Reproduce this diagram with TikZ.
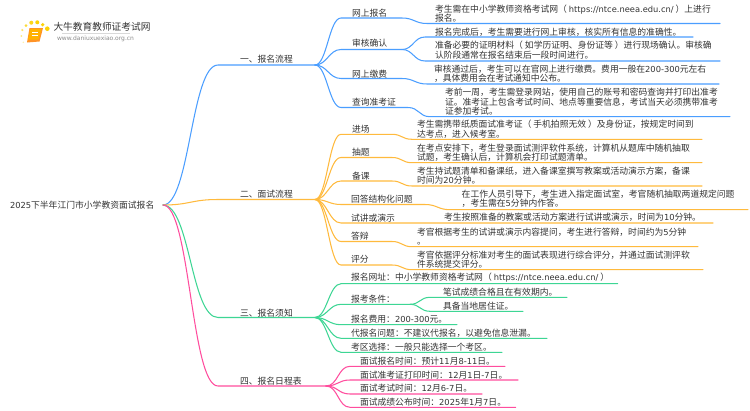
\documentclass[tikz,border=0pt]{standalone}
\usepackage{fontspec}
\setmainfont{Noto Sans CJK SC}
\newfontfamily\latinface{DejaVu Sans}
\newcommand{\E}[1]{{\latinface\fontsize{8.3}{9.4}\selectfont #1}}
\definecolor{txt}{HTML}{333333}
\definecolor{bl}{HTML}{4A9EFF}
\definecolor{og}{HTML}{FFBA3D}
\definecolor{gn}{HTML}{3DD694}
\definecolor{pk}{HTML}{FF4D9E}
\tikzset{
  tx/.style={anchor=west,inner sep=0pt,outer sep=0pt,align=left,text=txt,font=\fontsize{8.8}{9.4}\selectfont},
  ln/.style={line width=1.05pt,line cap=round,line join=round}
}
\newcommand{\sq}[3]{(#1) .. controls +(#3,0) and +(-#3,0) .. (#2)}
\begin{document}
\begin{tikzpicture}[x=1pt,y=-1pt]
\useasboundingbox (0,0) rectangle (750,410);
\fill[white] (0,0) rectangle (750,410);
% logo
\foreach \px/\py/\pr/\po in {47.3/28.7/2.3/1,42.7/24.7/1.8/1,37.3/22.3/2/1,31.3/22.7/2/.9,26/25.7/1.5/.8,22.3/30/1.2/.6,21.3/36/1/.5,23.3/42.3/.8/.35}
  \fill[yellow!70!orange,opacity=\po] (\px,\py) circle (\pr);
\fill[orange!85!white] (29.5,28) -- (43,28) -- (39.5,41.5) -- (27,42.5) -- cycle;
\fill[orange!60!yellow] (30.5,29) -- (41.5,29) -- (38.5,39.5) -- (28,39.5) -- cycle;
\draw[white,line width=.5pt] (32,32) -- (38,32) (31.5,35) -- (37.5,35);
\draw[black!15,line width=.6pt] (62,33) -- (130,33);
\node[tx,font=\fontsize{9.7}{10}\selectfont] (logoa) at (53.5,27) {大牛教育教师证考试网};
\node[tx,text=black!45,font=\fontsize{6}{7}\selectfont\addfontfeature{LetterSpace=11}\latinface] (logob) at (57,39) {www.daniuxuexiao.org.cn};
% coordinates
\coordinate (root) at (163,205);
\coordinate (s1) at (218,65);\coordinate (h1) at (315,65);
\coordinate (s2) at (218,199.5);\coordinate (h2) at (315,199.5);
\coordinate (s3) at (218,317.5);\coordinate (h3) at (315,317.5);
\coordinate (s4) at (218,386);\coordinate (h4) at (326,386);
% blue
\coordinate (b1a) at (341,18);\coordinate (b1b) at (402,18);\coordinate (b1c) at (427,23.5);\coordinate (b1d) at (720,23.5);
\coordinate (b2a) at (341,49.5);\coordinate (b2h) at (402,49.5);\coordinate (b2c) at (425,37);\coordinate (b2d) at (693,37);\coordinate (b2e) at (425,61);\coordinate (b2f) at (720,61);
\coordinate (b3a) at (341,78.5);\coordinate (b3b) at (402,78.5);\coordinate (b3c) at (427,84);\coordinate (b3d) at (719,84);
\coordinate (b4a) at (341,107.5);\coordinate (b4b) at (408,107.5);\coordinate (b4c) at (430,116.7);\coordinate (b4d) at (730,116.7);
% orange
\coordinate (o1a) at (341,134.3);\coordinate (o1b) at (392,134.3);\coordinate (o1c) at (412,139.3);\coordinate (o1d) at (702,139.3);
\coordinate (o2a) at (341,157.5);\coordinate (o2b) at (392,157.5);\coordinate (o2c) at (412,162.7);\coordinate (o2d) at (702,162.7);
\coordinate (o3a) at (341,181);\coordinate (o3b) at (392,181);\coordinate (o3c) at (412,186);\coordinate (o3d) at (702,186);
\coordinate (o4a) at (341,204.5);\coordinate (o4b) at (425,204.5);\coordinate (o4c) at (450,209.7);\coordinate (o4d) at (748,209.7);
\coordinate (o5a) at (341,223);\coordinate (o5d) at (713,223);
\coordinate (o6a) at (341,241.5);\coordinate (o6b) at (392,241.5);\coordinate (o6c) at (412,246.7);\coordinate (o6d) at (698,246.7);
\coordinate (o7a) at (341,265);\coordinate (o7b) at (392,265);\coordinate (o7c) at (412,269.7);\coordinate (o7d) at (703,269.7);
% green
\coordinate (g1a) at (341,283.7);\coordinate (g1d) at (617.7,283.7);
\coordinate (g2a) at (341,304.3);\coordinate (g2h) at (410,304.3);\coordinate (g2c) at (430,297.3);\coordinate (g2d) at (567,297.3);\coordinate (g2e) at (430,311.3);\coordinate (g2f) at (523,311.3);
\coordinate (g3a) at (341,324.7);\coordinate (g3d) at (457,324.7);
\coordinate (g4a) at (341,338.3);\coordinate (g4d) at (547,338.3);
\coordinate (g5a) at (341,352.3);\coordinate (g5d) at (502,352.3);
% pink
\coordinate (p1a) at (350,366.3);\coordinate (p1d) at (505,366.3);
\coordinate (p2a) at (350,380);\coordinate (p2d) at (518,380);
\coordinate (p3a) at (350,394);\coordinate (p3d) at (482,394);
\coordinate (p4a) at (350,407.3);\coordinate (p4d) at (515.7,407.3);
% connectors
\draw[ln,bl] \sq{root}{s1}{27} -- (h1);
\draw[ln,og] \sq{root}{s2}{27} -- (h2);
\draw[ln,gn] \sq{root}{s3}{27} -- (h3);
\draw[ln,pk] \sq{root}{s4}{27} -- (h4);
\begin{scope}[ln,bl]
\draw \sq{h1}{b1a}{12} -- (b1b) \sq{b1b}{b1c}{12} -- (b1d);
\draw \sq{h1}{b2a}{12} -- (b2h);
\draw \sq{b2h}{b2c}{11} -- (b2d);
\draw \sq{b2h}{b2e}{11} -- (b2f);
\draw \sq{h1}{b3a}{12} -- (b3b) \sq{b3b}{b3c}{12} -- (b3d);
\draw \sq{h1}{b4a}{12} -- (b4b) \sq{b4b}{b4c}{11} -- (b4d);
\end{scope}
\begin{scope}[ln,og]
\draw \sq{h2}{o1a}{12} -- (o1b) \sq{o1b}{o1c}{10} -- (o1d);
\draw \sq{h2}{o2a}{12} -- (o2b) \sq{o2b}{o2c}{10} -- (o2d);
\draw \sq{h2}{o3a}{12} -- (o3b) \sq{o3b}{o3c}{10} -- (o3d);
\draw \sq{h2}{o4a}{12} -- (o4b) \sq{o4b}{o4c}{12} -- (o4d);
\draw \sq{h2}{o5a}{12} -- (o5d);
\draw \sq{h2}{o6a}{12} -- (o6b) \sq{o6b}{o6c}{10} -- (o6d);
\draw \sq{h2}{o7a}{12} -- (o7b) \sq{o7b}{o7c}{10} -- (o7d);
\end{scope}
\begin{scope}[ln,gn]
\draw \sq{h3}{g1a}{12} -- (g1d);
\draw \sq{h3}{g2a}{12} -- (g2h);
\draw \sq{g2h}{g2c}{10} -- (g2d);
\draw \sq{g2h}{g2e}{10} -- (g2f);
\draw \sq{h3}{g3a}{12} -- (g3d);
\draw \sq{h3}{g4a}{12} -- (g4d);
\draw \sq{h3}{g5a}{12} -- (g5d);
\end{scope}
\begin{scope}[ln,pk]
\draw \sq{h4}{p1a}{12} -- (p1d);
\draw \sq{h4}{p2a}{12} -- (p2d);
\draw \sq{h4}{p3a}{12} -- (p3d);
\draw \sq{h4}{p4a}{12} -- (p4d);
\end{scope}
% text
\node[tx] (troot) at (10,205) {\E{2025}下半年江门市小学教资面试报名};
\node[tx] (t1) at (240,59) {一、报名流程};
\node[tx] (t2) at (240,194) {二、面试流程};
\node[tx] (t3) at (240,312.7) {三、报名须知};
\node[tx] (t4) at (240,381) {四、报名日程表};
\node[tx] (lb1) at (352,13.3) {网上报名};
\node[tx] (lb2) at (352,43.3) {审核确认};
\node[tx] (lb3) at (352,74) {网上缴费};
\node[tx] (lb4) at (352,101.7) {查询准考证};
\node[tx] (xb1) at (435,13.5) {考生需在中小学教师资格考试网（ \E{https://ntce.neea.edu.cn/} ）上进行\\报名。};
\node[tx] (xb2a) at (435,32) {报名完成后，考生需要进行网上审核，核实所有信息的准确性。};
\node[tx] (xb2b) at (435,50) {准备必要的证明材料（ 如学历证明、身份证等 ）进行现场确认。审核确\\认阶段通常在报名结束后一段时间进行。};
\node[tx] (xb3) at (434,74) {审核通过后，考生可以在官网上进行缴费。费用一般在\E{200-300}元左右\\，具体费用会在考试通知中公布。};
\node[tx] (xb4) at (445,101.7) {考前一周，考生需登录网站，使用自己的账号和密码查询并打印出准考\\证。准考证上包含考试时间、地点等重要信息，考试当天必须携带准考\\证参加考试。};
\node[tx] (lo1) at (352,129.3) {进场};
\node[tx] (lo2) at (352,152.3) {抽题};
\node[tx] (lo3) at (352,175.7) {备课};
\node[tx] (lo4) at (351,199) {回答结构化问题};
\node[tx] (lo5) at (351,217.7) {试讲或演示};
\node[tx] (lo6) at (351,236.3) {答辩};
\node[tx] (lo7) at (351,259.7) {评分};
\node[tx] (xo1) at (417,129.3) {考生需携带纸质面试准考证（ 手机拍照无效 ）及身份证，按规定时间到\\达考点，进入候考室。};
\node[tx] (xo2) at (417,152.5) {在考点安排下，考生登录面试测评软件系统，计算机从题库中随机抽取\\试题，考生确认后，计算机会打印试题清单。};
\node[tx] (xo3) at (417,175.8) {考生持试题清单和备课纸，进入备课室撰写教案或活动演示方案，备课\\时间为\E{20}分钟。};
\node[tx] (xo4) at (461.7,199) {在工作人员引导下，考生进入指定面试室，考官随机抽取两道规定问题\\，考生需在\E{5}分钟内作答。};
\node[tx] (xo5) at (444,217.7) {考生按照准备的教案或活动方案进行试讲或演示，时间为\E{10}分钟。};
\node[tx] (xo6) at (417,236.5) {考官根据考生的试讲或演示内容提问，考生进行答辩，时间约为\E{5}分钟\\。};
\node[tx] (xo7) at (417,259.7) {考官依据评分标准对考生的面试表现进行综合评分，并通过面试测评软\\件系统提交评分。};
\node[tx] (lg1) at (351,278) {报名网址：中小学教师资格考试网（ \E{https://ntce.neea.edu.cn/} ）};
\node[tx] (lg2) at (351,298.7) {报考条件：};
\node[tx] (xg2a) at (443,291.7) {笔试成绩合格且在有效期内。};
\node[tx] (xg2b) at (443,305.7) {具备当地居住证。};
\node[tx] (lg3) at (351,319.3) {报名费用：\E{200-300}元。};
\node[tx] (lg4) at (351,333) {代报名问题：不建议代报名，以避免信息泄漏。};
\node[tx] (lg5) at (351,347) {考区选择：一般只能选择一个考区。};
\node[tx] (lp1) at (360,360.7) {面试报名时间：预计\E{11}月\E{8-11}日。};
\node[tx] (lp2) at (360,374.7) {面试准考证打印时间：\E{12}月\E{1}日\E{-7}日。};
\node[tx] (lp3) at (360,388.3) {面试考试时间：\E{12}月\E{6-7}日。};
\node[tx] (lp4) at (360,402.3) {面试成绩公布时间：\E{2025}年\E{1}月\E{7}日。};
\end{tikzpicture}
\end{document}
